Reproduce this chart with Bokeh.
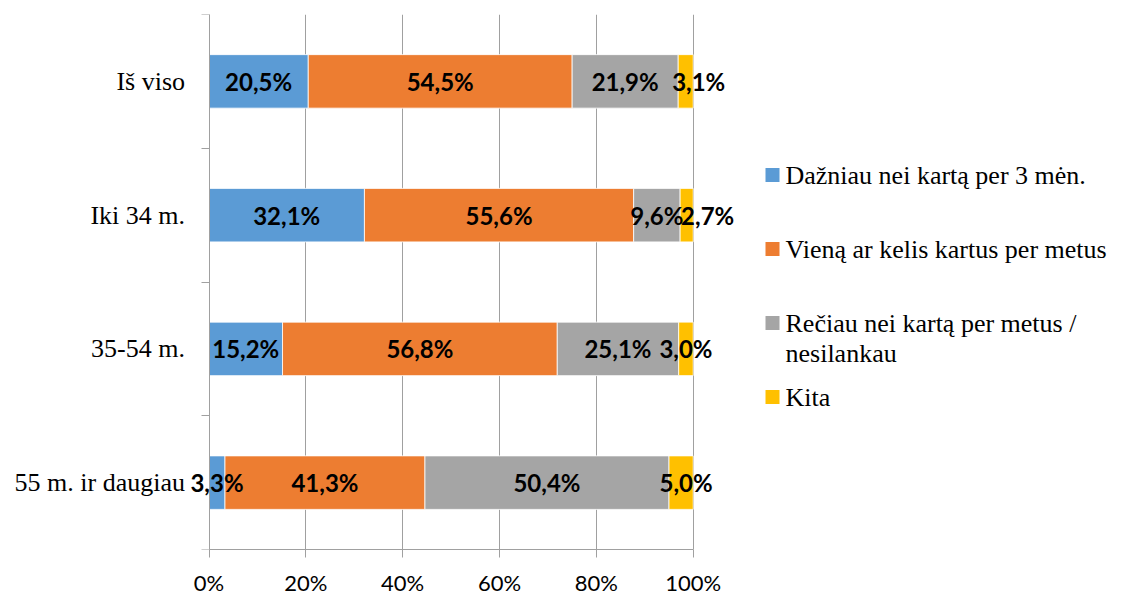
import numpy as np
from bokeh.plotting import figure
from bokeh.models import ColumnDataSource, Range1d, FixedTicker, LabelSet
from bokeh.core.properties import value
from bokeh.embed import file_html
from bokeh.resources import INLINE

# ---------------- data ----------------
categories = ["Iš viso", "Iki 34 m.", "35-54 m.", "55 m. ir daugiau"]
series_names = ["Dažniau nei kartą per 3 mėn.",
                "Vieną ar kelis kartus per metus",
                "Rečiau nei kartą per metus /\nnesilankau",
                "Kita"]
often = [20.5, 32.1, 15.2, 3.3]
yearly = [54.5, 55.6, 56.8, 41.3]
rarely = [21.9, 9.6, 25.1, 50.4]
other = [3.1, 2.7, 3.0, 5.0]
x_ticks = [0, 20, 40, 60, 80, 100]

# ---------------- style / layout ----------------
colors = ["#5B9BD5", "#ED7D31", "#A5A5A5", "#FFC000"]
W, H = 1121, 598
BT, BB = 14, 44                    # top / bottom borders (px)
FRAME_H = H - BT - BB
X0_PX = 208.5                      # pixel of 0 %
PX100 = 484.2                      # pixels spanned by 0..100 %
NCAT = len(categories)
BAR_H = 0.4
KITA_NUDGE_PX = [13, 21, 0, 5]     # manual label nudges as in the original
AXIS_GRAY = "#A0A0A0"

def x_from_px(px):          # figure px -> data x
    return (px - X0_PX) / PX100 * 100.0

def y_from_px(py):          # figure px -> data y
    return (BT + FRAME_H - py) / FRAME_H * NCAT

p = figure(width=W, height=H,
           x_range=Range1d(x_from_px(0), x_from_px(W)), y_range=Range1d(0, NCAT),
           output_backend="svg", toolbar_location=None,
           min_border_left=0, min_border_right=0, min_border_top=BT, min_border_bottom=BB)
p.outline_line_color = None
p.background_fill_color = "white"
p.border_fill_color = "white"

ys = [NCAT - 0.5 - i for i in range(NCAT)]
values = np.array([often, yearly, rarely, other], dtype=float)
totals = values.sum(axis=0)
norm = values / totals * 100.0
rights = np.cumsum(norm, axis=0)
lefts = rights - norm

lab_x, lab_y, lab_t = [], [], []
for s in range(len(series_names)):
    src = ColumnDataSource(dict(y=ys, left=lefts[s], right=rights[s]))
    p.hbar(y="y", left="left", right="right", height=BAR_H, source=src,
           fill_color=colors[s], line_color="white", line_width=0.8)
    for i in range(NCAT):
        mid = (lefts[s][i] + rights[s][i]) / 2.0
        if s == len(series_names) - 1:
            mid += KITA_NUDGE_PX[i] * 100.0 / PX100
        lab_x.append(mid)
        lab_y.append(ys[i])
        lab_t.append(f"{values[s][i]:.1f}%".replace(".", ","))

labels = LabelSet(x="x", y="y", text="t",
                  source=ColumnDataSource(dict(x=lab_x, y=lab_y, t=lab_t)),
                  text_font=value("Lato"), text_font_style="bold", text_font_size="24px",
                  text_align="center", text_baseline="middle", text_color="black")
p.add_layout(labels)

# ---------------- axes & grid ----------------
xa = p.xaxis[0]
xa.ticker = FixedTicker(ticks=x_ticks)
xa.major_label_overrides = {t: f"{t}%" for t in x_ticks}
xa.bounds = (0, 100)
xa.axis_line_color = AXIS_GRAY
xa.major_tick_line_color = AXIS_GRAY
xa.major_tick_out = 8
xa.major_tick_in = 0
xa.minor_tick_line_color = None
xa.major_label_standoff = 11
xa.major_label_text_font = "Lato"
xa.major_label_text_font_size = "22px"
xa.major_label_text_color = "black"

ya = p.yaxis[0]
ya.fixed_location = 0
ya.ticker = FixedTicker(ticks=ys, minor_ticks=list(range(NCAT + 1)))
ya.major_label_overrides = {y: c for y, c in zip(ys, categories)}
ya.axis_line_color = AXIS_GRAY
ya.major_tick_line_color = None
ya.major_tick_out = 0
ya.major_tick_in = 0
ya.minor_tick_line_color = AXIS_GRAY
ya.minor_tick_out = 8
ya.minor_tick_in = 0
ya.major_label_standoff = 16
ya.major_label_text_font = "Liberation Serif"
ya.major_label_text_font_size = "26px"
ya.major_label_text_color = "black"

p.xgrid.ticker = FixedTicker(ticks=x_ticks)
p.xgrid.bounds = (0, 100)
p.xgrid.grid_line_color = AXIS_GRAY
p.ygrid.visible = False

# ---------------- legend (drawn manually) ----------------
LEG_SQ_X, LEG_TXT_X = 772, 785
LEG_Y0, LEG_STEP, LINE_H = 176, 74.7, 31
sq_x, sq_y, tx, ty, tt = [], [], [], [], []
for k, name in enumerate(series_names):
    cy = LEG_Y0 + k * LEG_STEP
    sq_x.append(x_from_px(LEG_SQ_X))
    sq_y.append(y_from_px(cy))
    for j, line in enumerate(name.split("\n")):
        tx.append(x_from_px(LEG_TXT_X))
        ty.append(y_from_px(cy + j * LINE_H))
        tt.append(line)
p.scatter(x=sq_x, y=sq_y, marker="square", size=14, fill_color=colors, line_color=None)
p.text(x=tx, y=ty, text=tt, text_font=value("Liberation Serif"), text_font_size="26px",
       text_align="left", text_baseline="middle", text_color="black")

open("out.html", "w").write(file_html(p, INLINE))
